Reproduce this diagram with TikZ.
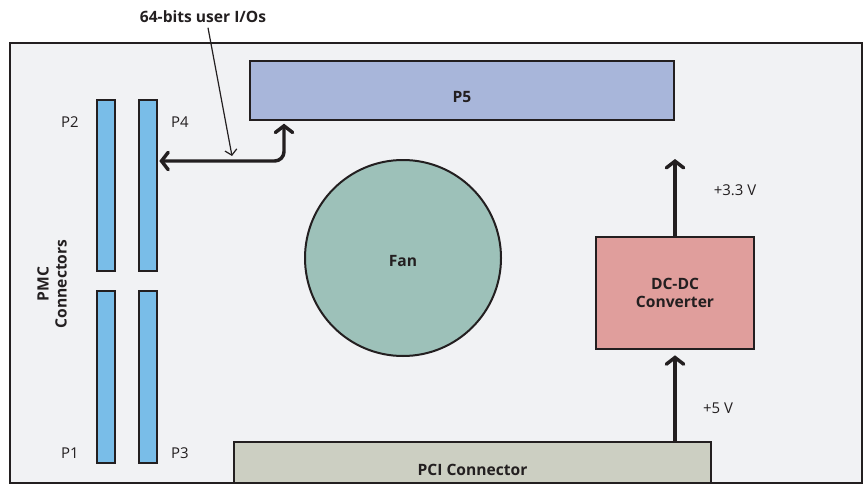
\documentclass[tikz,border=0pt]{standalone}
\usepackage{fontspec}
\setmainfont{Open Sans}
\usetikzlibrary{arrows.meta}
\definecolor{boardgray}{HTML}{F1F2F4}
\definecolor{pfiveblue}{HTML}{A8B6DA}
\definecolor{pmcblue}{HTML}{79BDE8}
\definecolor{fangreen}{HTML}{9DC1B9}
\definecolor{dcred}{HTML}{E09E9C}
\definecolor{pcigray}{HTML}{CCCFC2}
\definecolor{ink}{HTML}{231F20}

\begin{document}
\begin{tikzpicture}[x=0.75pt,y=-0.75pt,font=\fontsize{11.2}{13}\selectfont]
        \tikzset{title/.style = {font=\fontsize{11.7}{13.5}\selectfont\bfseries,text=ink}};
        \tikzset{block/.style = {shape=rectangle,draw=ink,line width=1.5pt,inner sep=0pt,text=ink}};
        \tikzset{pin/.style = {block,fill=pmcblue,minimum width=13.5pt}};
        \tikzset{power/.style = {draw=ink,line width=2.6pt,-{Straight Barb[length=5pt,width=13pt,line cap=round]}}};
        \tikzset{bus/.style = {power,{Straight Barb[length=5pt,width=13pt,line cap=round]}-{Straight Barb[length=5pt,width=13pt,line cap=round]},rounded corners=7pt}};
        \tikzset{note/.style = {text=ink}};
        \useasboundingbox (0,0) rectangle (867,485);
        \node[block,fill=boardgray,minimum width=639pt,minimum height=330pt] (board) at (436,263) {};
        \node[block,fill=pfiveblue,minimum width=318pt,minimum height=44.25pt,
              label={[yshift=-5pt,title]center:P5}] (pfive) at (462,90.5) {};
        \node[pin,minimum height=128.25pt] (ptwo) at (106,185.5) {};
        \node[pin,minimum height=128.25pt] (pfour) at (148,185.5) {};
        \node[pin,minimum height=129pt] (pone) at (106,377) {};
        \node[pin,minimum height=129pt] (pthree) at (148,377) {};
        \node[block,shape=circle,fill=fangreen,minimum size=147pt,
              label={[yshift=-2.5pt,title]center:Fan}] (fan) at (403,258) {};
        \node[block,fill=dcred,minimum width=118.5pt,minimum height=84pt,align=center,title] (dcdc) at (675,293) {DC-DC\\Converter};
        \node[block,fill=pcigray,minimum width=357.75pt,minimum height=30.75pt,
              label={[yshift=-5.5pt,title]center:PCI Connector}] (pci) at (472.5,462.5) {};
        \node[note] (ptwolabel) at (70,122) {P2};
        \node[note] (pfourlabel) at (180,122) {P4};
        \node[note] (ponelabel) at (70,453) {P1};
        \node[note] (pthreelabel) at (180,453) {P3};
        \node[title,rotate=90,align=center] (pmclabel) at (52,284) {PMC\\Connectors};
        \node[note] (vthree) at (735,190) {+3.3 V};
        \node[note] (vfive) at (718,408) {+5 V};
        \node[title] (iolabel) at (203,17) {64-bits user I/Os};
        \coordinate (vout) at (675,159);
        \coordinate (bend) at (284,161);
        \coordinate (iotip) at (232,156);
        \draw[power,shorten >=4pt] (pci.north -| dcdc) to (dcdc.south);
        \draw[power] (dcdc.north) to (vout);
        \draw[bus,shorten <=1pt,shorten >=2pt] (pfour.east |- bend) -- (bend) -- (pfive.south -| bend);
        \draw[ink,line width=0.9pt,-{Straight Barb[length=4pt,width=9pt]}] (iolabel.south -| 208,0) -- (iotip);
    \end{tikzpicture}
\end{document}
